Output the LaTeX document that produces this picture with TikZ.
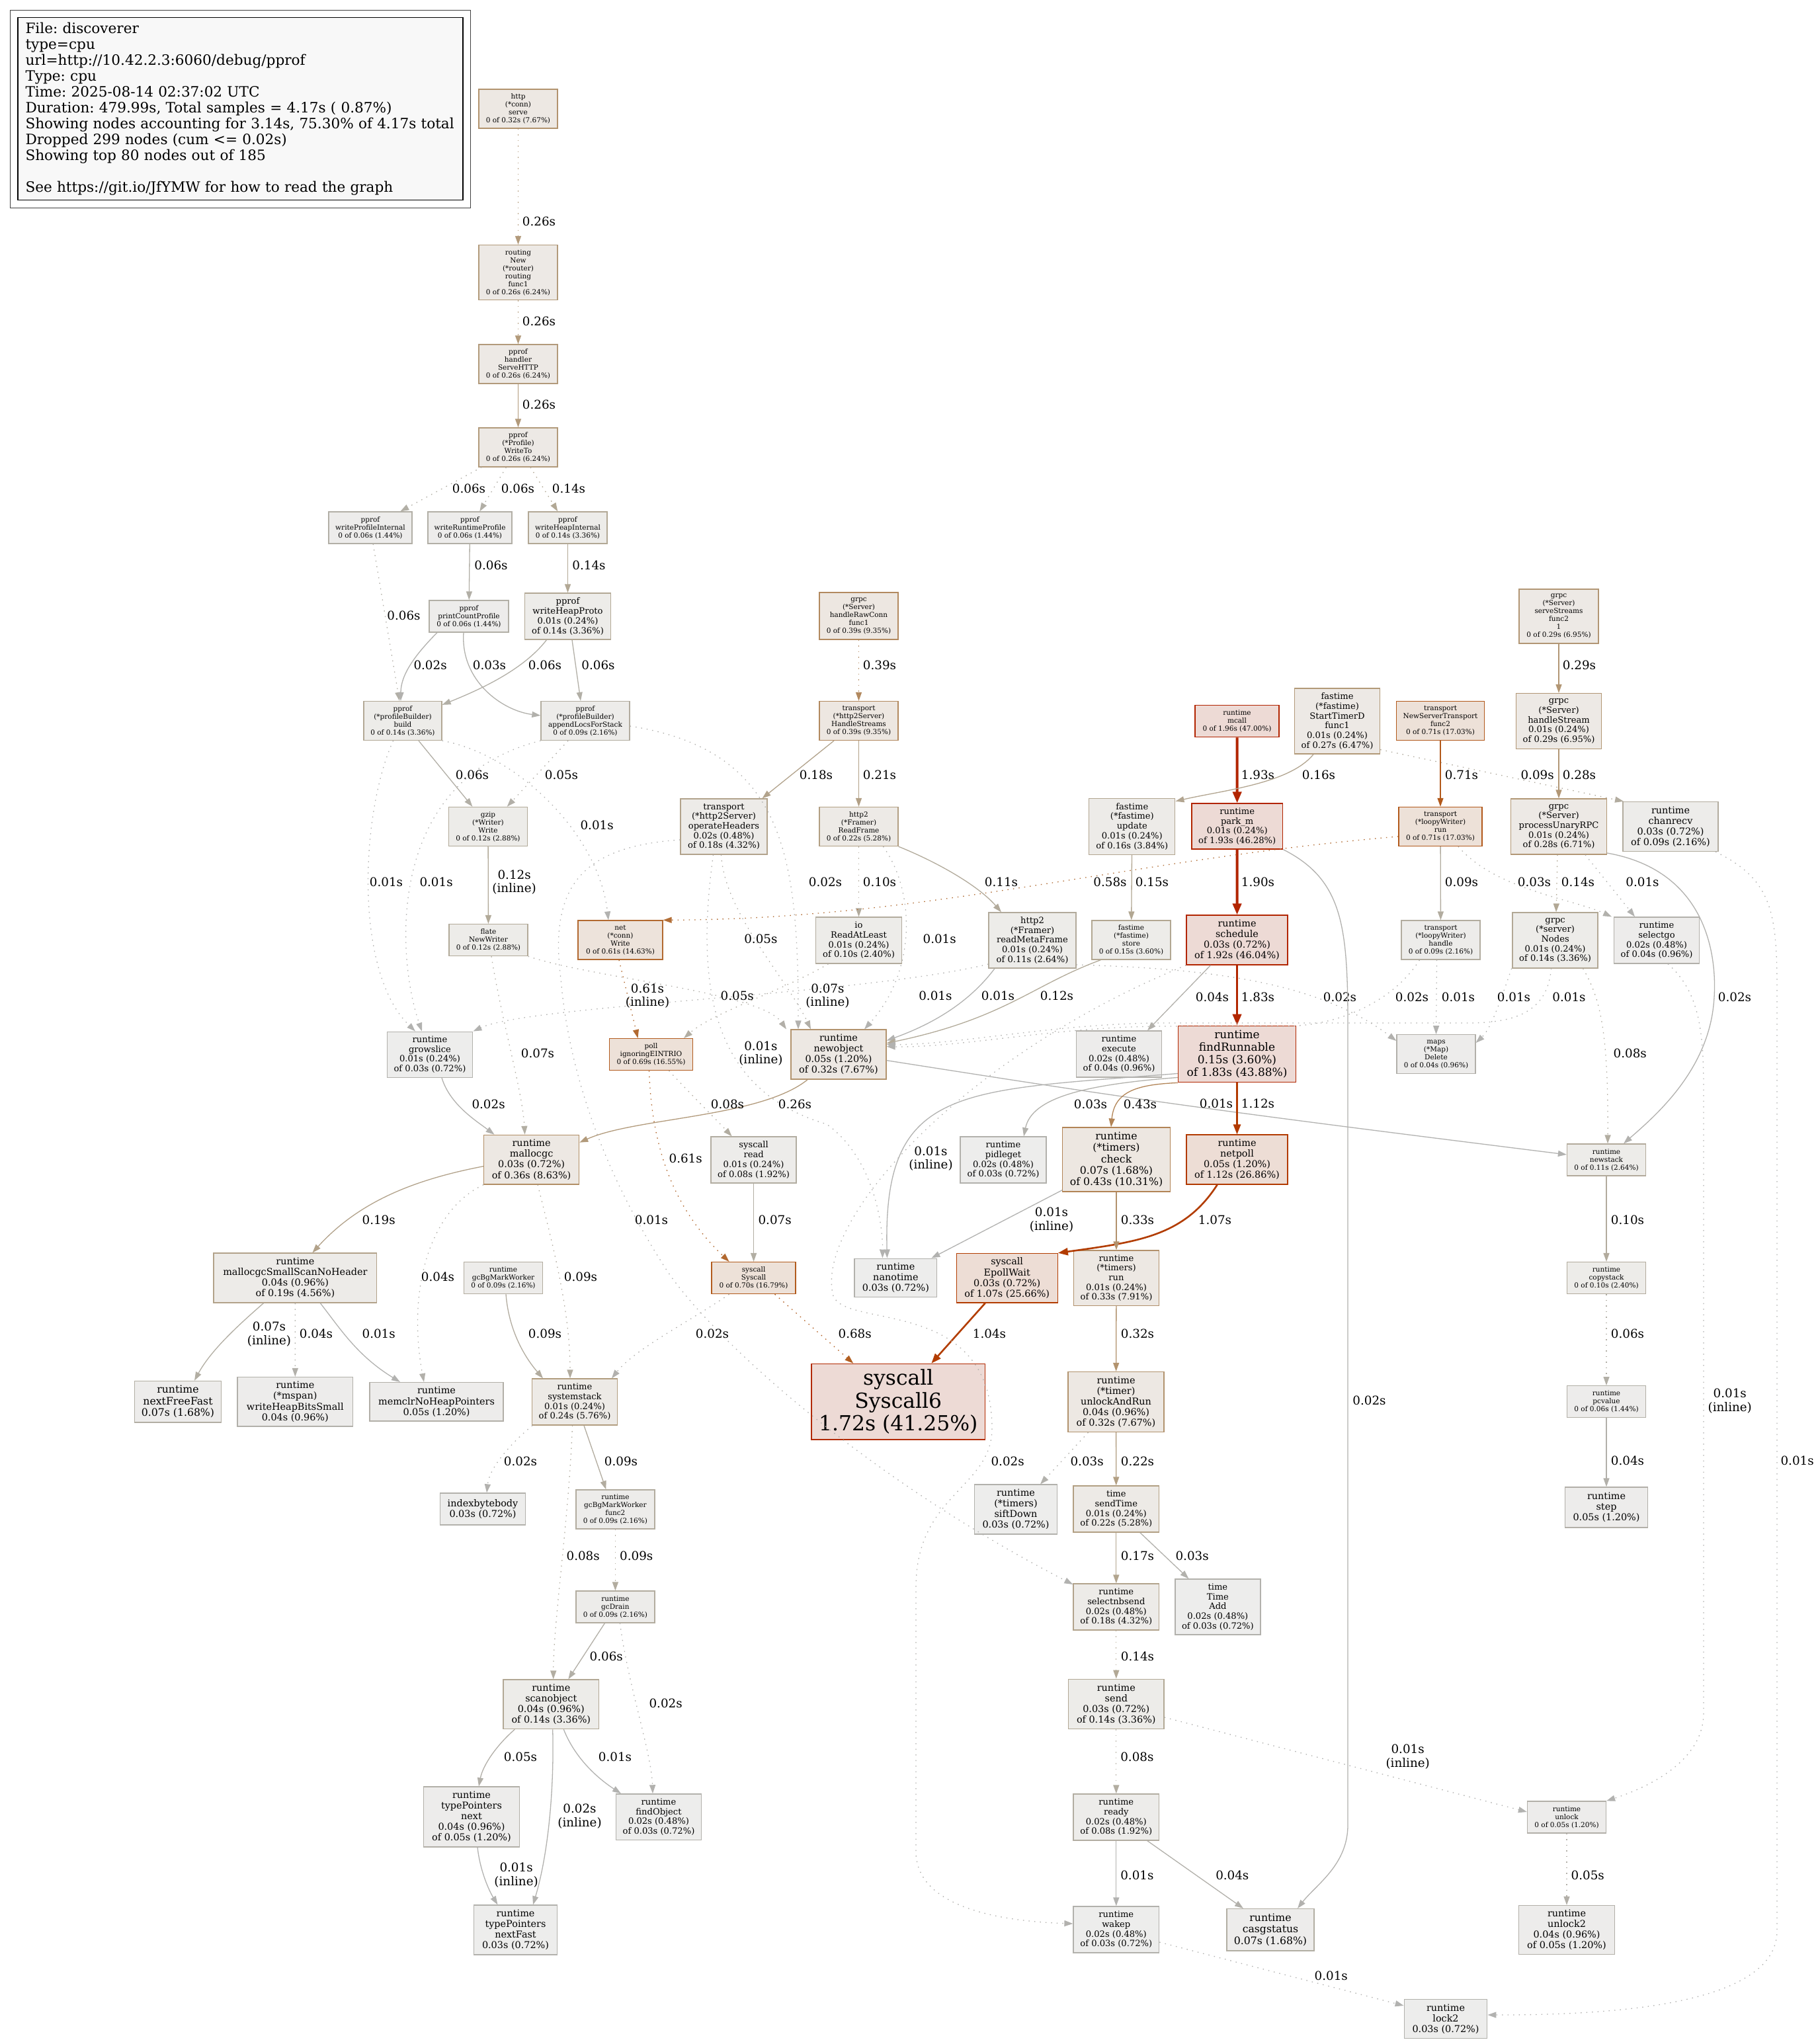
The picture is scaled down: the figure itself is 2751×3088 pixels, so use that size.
\documentclass[tikz,border=0pt]{standalone}
\usepackage{fontspec}
\setmainfont{DejaVu Serif}
\usetikzlibrary{arrows.meta,fit}
\frenchspacing

% edge and border colours (by weight)
\definecolor{w01}{HTML}{B2B2B0}
\definecolor{w02}{HTML}{B2B1AE}
\definecolor{w03}{HTML}{B2B1AC}
\definecolor{w04}{HTML}{B2B0AA}
\definecolor{w05}{HTML}{B2AFA8}
\definecolor{w06}{HTML}{B2AFA6}
\definecolor{w07}{HTML}{B2AEA3}
\definecolor{w08}{HTML}{B2ADA1}
\definecolor{w09}{HTML}{B2AC9F}
\definecolor{w10}{HTML}{B2AB9D}
\definecolor{w11}{HTML}{B2AA9B}
\definecolor{w12}{HTML}{B2AA99}
\definecolor{w14}{HTML}{B2A895}
\definecolor{w15}{HTML}{B2A792}
\definecolor{w16}{HTML}{B2A590}
\definecolor{w17}{HTML}{B2A58E}
\definecolor{w18}{HTML}{B2A38C}
\definecolor{w19}{HTML}{B2A28A}
\definecolor{w21}{HTML}{B2A086}
\definecolor{w22}{HTML}{B29F83}
\definecolor{w24}{HTML}{B29D7F}
\definecolor{w26}{HTML}{B29A7B}
\definecolor{w27}{HTML}{B29978}
\definecolor{w28}{HTML}{B29776}
\definecolor{w29}{HTML}{B29674}
\definecolor{w32}{HTML}{B2936E}
\definecolor{w33}{HTML}{B2916C}
\definecolor{w36}{HTML}{B28E65}
\definecolor{w39}{HTML}{B2895F}
\definecolor{w43}{HTML}{B28456}
\definecolor{w58}{HTML}{B26E36}
\definecolor{w61}{HTML}{B26930}
\definecolor{w68}{HTML}{B25E21}
\definecolor{w69}{HTML}{B25C1F}
\definecolor{w70}{HTML}{B25B1D}
\definecolor{w71}{HTML}{B2591B}
\definecolor{w104}{HTML}{B23D00}
\definecolor{w107}{HTML}{B23C00}
\definecolor{w112}{HTML}{B23A00}
\definecolor{w172}{HTML}{B22A00}
\definecolor{w183}{HTML}{B22700}
\definecolor{w190}{HTML}{B22500}
\definecolor{w192}{HTML}{B22500}
\definecolor{w193}{HTML}{B22500}
\definecolor{w196}{HTML}{B22400}
% node fills
\definecolor{bgA}{HTML}{EDEDEC}
\definecolor{bgB}{HTML}{EDECEB}
\definecolor{bgC}{HTML}{EDECEA}
\definecolor{bgD}{HTML}{EDECE9}
\definecolor{bgE}{HTML}{EDEBE8}
\definecolor{bgF}{HTML}{EDEAE6}
\definecolor{bgG}{HTML}{EDE9E5}
\definecolor{bgH}{HTML}{EDE8E3}
\definecolor{bgI}{HTML}{EDE7E1}
\definecolor{bgJ}{HTML}{EDE3DB}
\definecolor{bgK}{HTML}{EDE1D8}
\definecolor{bgL}{HTML}{EDDDD5}
\definecolor{bgM}{HTML}{EDDAD5}
\definecolor{legendfill}{HTML}{F8F8F8}

\begin{document}
\begin{tikzpicture}[
    x=1pt, y=-1pt,
    fn/.style={rectangle, draw, align=center, inner sep=0pt, line width=1.3pt},
    f8/.style={font=\fontsize{10.5}{12}\selectfont},
    f10/.style={font=\fontsize{13.1}{14.7}\selectfont},
    f11/.style={font=\fontsize{14.4}{16.1}\selectfont},
    f12/.style={font=\fontsize{15.7}{17.4}\selectfont},
    f13/.style={font=\fontsize{17}{18.7}\selectfont},
    f24/.style={font=\fontsize{31.4}{34.4}\selectfont},
    sz/.style 2 args={minimum width=#1pt, minimum height=#2pt},
    call/.style={draw=#1, line width=1.3pt, -{Triangle[length=13pt,width=9pt]}},
    resid/.style={call=#1, dash pattern=on 1.5pt off 7pt},
    warm/.style={draw=#1, line width=2.6pt, -{Triangle[length=15pt,width=11pt]}},
    hot/.style={draw=#1, line width=3.9pt, -{Triangle[length=17pt,width=13pt]}},
    lbl/.style={font=\fontsize{18.3}{20.5}\selectfont, align=center, inner sep=0pt}
]
\fill[white] (0,0) rectangle (2751,3088);
\useasboundingbox (0,0) rectangle (2751,3088);

    % Legend
    \node[fn, fill=legendfill, draw=black, sz={673}{276}, text width=650pt, align=left,
          font=\fontsize{21.6}{24}\selectfont] (legend) at (363.5,164.75) {File: discoverer\\
    type=cpu\\
    url=http://10.42.2.3:6060/debug/pprof\\
    Type: cpu\\
    Time: 2025-08-14 02:37:02 UTC\\
    Duration: 479.99s, Total samples = 4.17s ( 0.87\%)\\
    Showing nodes accounting for 3.14s, 75.30\% of 4.17s total\\
    Dropped 299 nodes (cum <= 0.02s)\\
    Showing top 80 nodes out of 185\\[24pt]
    See https://git.io/JfYMW for how to read the graph};
    \node[draw=black!75, line width=1pt, fit=(legend), inner sep=11pt] (legendframe) {};

    % pprof handler
    \node[fn, f8, fill=bgH, draw=w32, sz={119}{59}] (http) at (783.5,164.5) {http\\(*conn)\\serve\\0 of 0.32s (7.67\%)};
    \node[fn, f8, fill=bgG, draw=w26, sz={119}{83}] (routing) at (783.5,412) {routing\\New\\(*router)\\routing\\func1\\0 of 0.26s (6.24\%)};
    \node[fn, f8, fill=bgG, draw=w26, sz={119}{59}] (handler) at (783.5,550.5) {pprof\\handler\\ServeHTTP\\0 of 0.26s (6.24\%)};
    \node[fn, f8, fill=bgG, draw=w26, sz={119}{59}] (WriteTo) at (783.5,676.5) {pprof\\(*Profile)\\WriteTo\\0 of 0.26s (6.24\%)};
    \node[fn, f8, fill=bgB, draw=w06, sz={126}{48}] (wPI) at (560,798) {pprof\\writeProfileInternal\\0 of 0.06s (1.44\%)};
    \node[fn, f8, fill=bgB, draw=w06, sz={127}{48}] (wRP) at (710.5,798) {pprof\\writeRuntimeProfile\\0 of 0.06s (1.44\%)};
    \node[fn, f8, fill=bgD, draw=w14, sz={119}{48}] (wHI) at (858.5,798) {pprof\\writeHeapInternal\\0 of 0.14s (3.36\%)};
    \node[fn, f8, fill=bgB, draw=w06, sz={120}{48}] (printCount) at (709,932) {pprof\\printCountProfile\\0 of 0.06s (1.44\%)};
    \node[fn, f10, fill=bgD, draw=w14, sz={130}{70}] (writeHeapProto) at (858.5,932) {pprof\\writeHeapProto\\0.01s (0.24\%)\\of 0.14s (3.36\%)};
    \node[fn, f8, fill=bgD, draw=w14, sz={118}{59}] (build) at (609,1090) {pprof\\(*profileBuilder)\\build\\0 of 0.14s (3.36\%)};
    \node[fn, f8, fill=bgC, draw=w09, sz={134}{59}] (appendLocs) at (885,1090) {pprof\\(*profileBuilder)\\appendLocsForStack\\0 of 0.09s (2.16\%)};
    \node[fn, f8, fill=bgD, draw=w12, sz={119}{59}] (gzip) at (738,1250) {gzip\\(*Writer)\\Write\\0 of 0.12s (2.88\%)};
    \node[fn, f8, fill=bgD, draw=w12, sz={119}{48}] (flate) at (738.5,1421.6) {flate\\NewWriter\\0 of 0.12s (2.88\%)};

    % allocation and gc
    \node[fn, f10, fill=bgA, draw=w03, sz={129.5}{69}] (growslice) at (650,1594.7) {runtime\\growslice\\0.01s (0.24\%)\\of 0.03s (0.72\%)};
    \node[fn, f11, fill=bgH, draw=w36, sz={144}{74.6}] (mallocgc) at (803.6,1753.7) {runtime\\mallocgc\\0.03s (0.72\%)\\of 0.36s (8.63\%)};
    \node[fn, f11, fill=bgE, draw=w19, sz={246.6}{75}] (SSNH) at (446.4,1932.6) {runtime\\mallocgcSmallScanNoHeader\\0.04s (0.96\%)\\of 0.19s (4.56\%)};
    \node[fn, f12, fill=bgB, draw=w07, sz={131}{62.6}] (nextFreeFast) at (269,2119.7) {runtime\\nextFreeFast\\0.07s (1.68\%)};
    \node[fn, f11, fill=bgB, draw=w04, sz={174.7}{74.5}] (writeHeapBits) at (446.3,2119.8) {runtime\\(*mspan)\\writeHeapBitsSmall\\0.04s (0.96\%)};
    \node[fn, f11, fill=bgB, draw=w05, sz={202}{58.5}] (memclr) at (660,2119.8) {runtime\\memclrNoHeapPointers\\0.05s (1.20\%)};
    \node[fn, f8, fill=bgC, draw=w09, sz={119}{48}] (gcBgMarkWorker) at (761,1932.6) {runtime\\gcBgMarkWorker\\0 of 0.09s (2.16\%)};
    \node[fn, f10, fill=bgF, draw=w24, sz={129}{70}] (systemstack) at (869,2120) {runtime\\systemstack\\0.01s (0.24\%)\\of 0.24s (5.76\%)};
    \node[fn, f11, fill=bgA, draw=w03, sz={129}{48}] (indexbytebody) at (730,2282) {indexbytebody\\0.03s (0.72\%)};
    \node[fn, f8, fill=bgC, draw=w09, sz={119}{59}] (func2) at (930.4,2282.6) {runtime\\gcBgMarkWorker\\func2\\0 of 0.09s (2.16\%)};
    \node[fn, f8, fill=bgC, draw=w09, sz={119}{48}] (gcDrain) at (930.4,2430) {runtime\\gcDrain\\0 of 0.09s (2.16\%)};
    \node[fn, f11, fill=bgD, draw=w14, sz={144.6}{74.6}] (scanobject) at (833.3,2577.3) {runtime\\scanobject\\0.04s (0.96\%)\\of 0.14s (3.36\%)};
    \node[fn, f11, fill=bgB, draw=w05, sz={144.4}{91}] (tpNext) at (713,2747.5) {runtime\\typePointers\\next\\0.04s (0.96\%)\\of 0.05s (1.20\%)};
    \node[fn, f10, fill=bgA, draw=w03, sz={129.6}{69.8}] (findObject) at (996,2747.8) {runtime\\findObject\\0.02s (0.48\%)\\of 0.03s (0.72\%)};
    \node[fn, f11, fill=bgA, draw=w03, sz={125.5}{75}] (nextFast) at (779.5,2918.5) {runtime\\typePointers\\nextFast\\0.03s (0.72\%)};

    % grpc transport and syscalls
    \node[fn, f8, fill=bgI, draw=w39, sz={119}{71}] (handleRawConn) at (1298.5,931.5) {grpc\\(*Server)\\handleRawConn\\func1\\0 of 0.39s (9.35\%)};
    \node[fn, f8, fill=bgI, draw=w39, sz={119}{59}] (HandleStreams) at (1298.5,1090) {transport\\(*http2Server)\\HandleStreams\\0 of 0.39s (9.35\%)};
    \node[fn, f10, fill=bgE, draw=w18, sz={131}{84}] (operateHeaders) at (1094.5,1250) {transport\\(*http2Server)\\operateHeaders\\0.02s (0.48\%)\\of 0.18s (4.32\%)};
    \node[fn, f8, fill=bgF, draw=w22, sz={119}{59}] (ReadFrame) at (1298.5,1250) {http2\\(*Framer)\\ReadFrame\\0 of 0.22s (5.28\%)};
    \node[fn, f10, fill=bgD, draw=w10, sz={130}{70}] (ReadAtLeast) at (1298.5,1422) {io\\ReadAtLeast\\0.01s (0.24\%)\\of 0.10s (2.40\%)};
    \node[fn, f10, fill=bgD, draw=w11, sz={132}{84}] (readMetaFrame) at (1561,1422) {http2\\(*Framer)\\readMetaFrame\\0.01s (0.24\%)\\of 0.11s (2.64\%)};
    \node[fn, f8, fill=bgJ, draw=w61, sz={128}{59}] (net) at (938,1421.5) {net\\(*conn)\\Write\\0 of 0.61s (14.63\%)};
    \node[fn, f8, fill=bgK, draw=w69, sz={126}{48}] (poll) at (984.5,1594.6) {poll\\ignoringEINTRIO\\0 of 0.69s (16.55\%)};
    \node[fn, f11, fill=bgH, draw=w32, sz={144}{75}] (newobject) at (1268,1594.6) {runtime\\newobject\\0.05s (1.20\%)\\of 0.32s (7.67\%)};
    \node[fn, f10, fill=bgC, draw=w08, sz={129}{70}] (read) at (1139.6,1754) {syscall\\read\\0.01s (0.24\%)\\of 0.08s (1.92\%)};
    \node[fn, f8, fill=bgK, draw=w70, sz={127}{48}] (Syscall) at (1139.6,1932.6) {syscall\\Syscall\\0 of 0.70s (16.79\%)};
    \node[fn, f24, fill=bgM, draw=w172, sz={262.6}{114.6}] (Syscall6) at (1358.3,2119.7) {syscall\\Syscall6\\1.72s (41.25\%)};

    % scheduler
    \node[fn, f8, fill=bgM, draw=w196, sz={127}{48}] (mcall) at (1870.5,1090.6) {runtime\\mcall\\0 of 1.96s (47.00\%)};
    \node[fn, f10, fill=bgM, draw=w193, sz={137.7}{69}] (parkm) at (1870.7,1249.6) {runtime\\park\_m\\0.01s (0.24\%)\\of 1.93s (46.28\%)};
    \node[fn, f11, fill=bgM, draw=w192, sz={153}{75}] (schedule) at (1870.5,1421.5) {runtime\\schedule\\0.03s (0.72\%)\\of 1.92s (46.04\%)};
    \node[fn, f13, fill=bgM, draw=w183, sz={178}{85.5}] (findRunnable) at (1870.5,1594) {runtime\\findRunnable\\0.15s (3.60\%)\\of 1.83s (43.88\%)};
    \node[fn, f11, fill=bgL, draw=w112, sz={153}{75}] (netpoll) at (1870.5,1753.6) {runtime\\netpoll\\0.05s (1.20\%)\\of 1.12s (26.86\%)};
    \node[fn, f11, fill=bgL, draw=w107, sz={153}{74.5}] (EpollWait) at (1522.7,1932.7) {syscall\\EpollWait\\0.03s (0.72\%)\\of 1.07s (25.66\%)};
    \node[fn, f10, fill=bgB, draw=w04, sz={129}{70}] (execute) at (1692,1594) {runtime\\execute\\0.02s (0.48\%)\\of 0.04s (0.96\%)};
    \node[fn, f10, fill=bgA, draw=w03, sz={130}{70}] (pidleget) at (1517,1754) {runtime\\pidleget\\0.02s (0.48\%)\\of 0.03s (0.72\%)};
    \node[fn, f11, fill=bgA, draw=w03, sz={124.6}{58.5}] (nanotime) at (1354.4,1932.4) {runtime\\nanotime\\0.03s (0.72\%)};
    \node[fn, f12, fill=bgI, draw=w43, sz={162.5}{97}] (check) at (1688,1753.6) {runtime\\(*timers)\\check\\0.07s (1.68\%)\\of 0.43s (10.31\%)};
    \node[fn, f10, fill=bgH, draw=w33, sz={129}{83.5}] (run) at (1688,1932.7) {runtime\\(*timers)\\run\\0.01s (0.24\%)\\of 0.33s (7.91\%)};
    \node[fn, f11, fill=bgH, draw=w32, sz={145}{91}] (unlockAndRun) at (1687.5,2120) {runtime\\(*timer)\\unlockAndRun\\0.04s (0.96\%)\\of 0.32s (7.67\%)};
    \node[fn, f11, fill=bgA, draw=w03, sz={125}{75}] (siftDown) at (1536,2282.6) {runtime\\(*timers)\\siftDown\\0.03s (0.72\%)};
    \node[fn, f10, fill=bgF, draw=w22, sz={129.6}{70}] (sendTime) at (1687.8,2282) {time\\sendTime\\0.01s (0.24\%)\\of 0.22s (5.28\%)};
    \node[fn, f10, fill=bgA, draw=w03, sz={129}{84}] (TimeAdd) at (1841.4,2430) {time\\Time\\Add\\0.02s (0.48\%)\\of 0.03s (0.72\%)};
    \node[fn, f10, fill=bgE, draw=w18, sz={129.6}{70}] (selectnbsend) at (1687.8,2430) {runtime\\selectnbsend\\0.02s (0.48\%)\\of 0.18s (4.32\%)};
    \node[fn, f11, fill=bgD, draw=w14, sz={144.6}{75.6}] (send) at (1687.8,2577) {runtime\\send\\0.03s (0.72\%)\\of 0.14s (3.36\%)};
    \node[fn, f10, fill=bgC, draw=w08, sz={129.6}{70}] (ready) at (1687.8,2748) {runtime\\ready\\0.02s (0.48\%)\\of 0.08s (1.92\%)};
    \node[fn, f10, fill=bgA, draw=w03, sz={129.6}{70}] (wakep) at (1687.8,2918) {runtime\\wakep\\0.02s (0.48\%)\\of 0.03s (0.72\%)};
    \node[fn, f12, fill=bgB, draw=w07, sz={132}{63.4}] (casgstatus) at (1921,2918.3) {runtime\\casgstatus\\0.07s (1.68\%)};
    \node[fn, f11, fill=bgA, draw=w03, sz={125.5}{58.4}] (lock2) at (2186,3053) {runtime\\lock2\\0.03s (0.72\%)};

    % fastime and grpc server
    \node[fn, f10, fill=bgG, draw=w27, sz={129}{99}] (StartTimerD) at (2022,1090.6) {fastime\\(*fastime)\\StartTimerD\\func1\\0.01s (0.24\%)\\of 0.27s (6.47\%)};
    \node[fn, f10, fill=bgE, draw=w16, sz={130}{85}] (update) at (1711.8,1249.7) {fastime\\(*fastime)\\update\\0.01s (0.24\%)\\of 0.16s (3.84\%)};
    \node[fn, f8, fill=bgD, draw=w15, sz={119}{59}] (store) at (1710.5,1421.5) {fastime\\(*fastime)\\store\\0 of 0.15s (3.60\%)};
    \node[fn, f8, fill=bgK, draw=w71, sz={133}{59}] (NewServerTransport) at (2178,1090) {transport\\NewServerTransport\\func2\\0 of 0.71s (17.03\%)};
    \node[fn, f8, fill=bgK, draw=w71, sz={126}{59}] (loopyrun) at (2178,1250) {transport\\(*loopyWriter)\\run\\0 of 0.71s (17.03\%)};
    \node[fn, f8, fill=bgC, draw=w09, sz={119}{59}] (loopyhandle) at (2178.5,1421.5) {transport\\(*loopyWriter)\\handle\\0 of 0.09s (2.16\%)};
    \node[fn, f8, fill=bgG, draw=w29, sz={120}{82}] (serveStreams) at (2357,932) {grpc\\(*Server)\\serveStreams\\func2\\1\\0 of 0.29s (6.95\%)};
    \node[fn, f10, fill=bgG, draw=w29, sz={129}{84}] (handleStream) at (2357,1090.6) {grpc\\(*Server)\\handleStream\\0.01s (0.24\%)\\of 0.29s (6.95\%)};
    \node[fn, f10, fill=bgG, draw=w28, sz={145}{84}] (processUnaryRPC) at (2357,1250) {grpc\\(*Server)\\processUnaryRPC\\0.01s (0.24\%)\\of 0.28s (6.71\%)};
    \node[fn, f11, fill=bgC, draw=w09, sz={144}{75}] (chanrecv) at (2526,1250) {runtime\\chanrecv\\0.03s (0.72\%)\\of 0.09s (2.16\%)};
    \node[fn, f10, fill=bgD, draw=w14, sz={129}{84}] (Nodes) at (2351.6,1422) {grpc\\(*server)\\Nodes\\0.01s (0.24\%)\\of 0.14s (3.36\%)};
    \node[fn, f10, fill=bgB, draw=w04, sz={129}{70}] (selectgo) at (2505,1422) {runtime\\selectgo\\0.02s (0.48\%)\\of 0.04s (0.96\%)};
    \node[fn, f8, fill=bgB, draw=w04, sz={119}{58.5}] (mapsDelete) at (2171.5,1594) {maps\\(*Map)\\Delete\\0 of 0.04s (0.96\%)};
    \node[fn, f8, fill=bgD, draw=w11, sz={119}{48}] (newstack) at (2429,1754) {runtime\\newstack\\0 of 0.11s (2.64\%)};
    \node[fn, f8, fill=bgD, draw=w10, sz={119}{48}] (copystack) at (2429,1932.6) {runtime\\copystack\\0 of 0.10s (2.40\%)};
    \node[fn, f8, fill=bgB, draw=w06, sz={119}{48}] (pcvalue) at (2429,2119.7) {runtime\\pcvalue\\0 of 0.06s (1.44\%)};
    \node[fn, f11, fill=bgB, draw=w05, sz={125}{61}] (step) at (2429,2279.5) {runtime\\step\\0.05s (1.20\%)};
    \node[fn, f8, fill=bgB, draw=w05, sz={119}{48}] (unlock) at (2369,2748) {runtime\\unlock\\0 of 0.05s (1.20\%)};
    \node[fn, f11, fill=bgB, draw=w05, sz={144.4}{74}] (unlock2) at (2369,2918.5) {runtime\\unlock2\\0.04s (0.96\%)\\of 0.05s (1.20\%)};

    % pprof handler edges
    \draw[resid=w26] (http) -- (routing) node[lbl] at (815,335) {0.26s};
    \draw[resid=w26] (routing) -- (handler) node[lbl] at (815,486) {0.26s};
    \draw[call=w26] (handler) -- (WriteTo) node[lbl] at (815,612) {0.26s};
    \draw[resid=w06] (WriteTo) -- (wPI) node[lbl] at (709,739) {0.06s};
    \draw[resid=w06] (WriteTo) -- (wRP) node[lbl] at (783,739) {0.06s};
    \draw[resid=w14] (WriteTo) -- (wHI) node[lbl] at (860,739) {0.14s};
    \draw[call=w06] (wRP) -- (printCount) node[lbl] at (742.5,855) {0.06s};
    \draw[call=w14] (wHI) -- (writeHeapProto) node[lbl] at (890.5,855) {0.14s};
    \draw[resid=w06] (wPI) -- (build) node[lbl] at (610.5,931) {0.06s};
    \draw[call=w02] ([xshift=-48pt]printCount.south) .. controls (628,990) and (606,1020) .. ([xshift=-3pt]build.north) node[lbl] at (650.6,1006) {0.02s};
    \draw[call=w03] ([xshift=-8pt]printCount.south) .. controls (696,1030) and (760,1075) .. ([yshift=8pt]appendLocs.west) node[lbl] at (740,1006) {0.03s};
    \draw[call=w06] ([xshift=-32pt]writeHeapProto.south) .. controls (790,1015) and (720,1045) .. ([yshift=-6pt]build.north east) node[lbl] at (824,1006) {0.06s};
    \draw[call=w06] ([xshift=6.5pt]writeHeapProto.south) -- ([xshift=-7pt]appendLocs.north) node[lbl] at (904.5,1006) {0.06s};
    \draw[call=w06] ([xshift=24pt]build.south) -- ([xshift=-23.6pt]gzip.north) node[lbl] at (714,1172) {0.06s};
    \draw[resid=w05] ([xshift=-26pt]appendLocs.south) -- ([xshift=28.7pt]gzip.north) node[lbl] at (849,1172) {0.05s};
    \draw[resid=w01] (build.south east) .. controls (780,1140) and (905,1260) .. ([xshift=-18pt]net.north) node[lbl] at (902.6,1248) {0.01s};
    \draw[resid=w01] ([xshift=-14.5pt]build.south) .. controls (545,1230) and (535,1470) .. ([xshift=-22pt]growslice.north) node[lbl] at (584,1334) {0.01s};
    \draw[resid=w01] (appendLocs.south west) .. controls (580,1180) and (600,1450) .. ([xshift=-12pt]growslice.north) node[lbl] at (659.6,1334) {0.01s};
    \draw[resid=w02] ([yshift=-8pt]appendLocs.east) .. controls (1190,1135) and (1207,1300) .. ([xshift=-61pt]newobject.north) node[lbl] at (1248,1334) {0.02s};
    \draw[call=w12] (gzip) -- (flate) node[lbl] at (777.6,1334) {0.12s\\(inline)};
    \draw[resid=w07] ([xshift=4.5pt]flate.south) .. controls (760,1550) and (790,1650) .. ([xshift=-10pt]mallocgc.north) node[lbl] at (813,1593) {0.07s};
    \draw[resid=w05] (flate.south east) .. controls (900,1480) and (1150,1500) .. ([xshift=-79pt]newobject.north) node[lbl] at (1114.8,1506) {0.05s};

    % allocation edges
    \draw[call=w02] ([xshift=18pt]growslice.south) .. controls (680,1670) and (720,1695) .. ([xshift=-56pt]mallocgc.north) node[lbl] at (738.6,1669.6) {0.02s};
    \draw[call=w26] ([xshift=-47pt]newobject.south) .. controls (1150,1690) and (960,1690) .. ([yshift=26pt]mallocgc.east) node[lbl] at (1202,1669.6) {0.26s};
    \draw[call=w19] ([yshift=-10pt]mallocgc.west) .. controls (620,1785) and (540,1820) .. ([xshift=26pt]SSNH.north) node[lbl] at (572.7,1844.6) {0.19s};
    \draw[resid=w04] (mallocgc.south west) .. controls (650,1830) and (615,1950) .. ([xshift=-19pt]memclr.north) node[lbl] at (662,1931) {0.04s};
    \draw[resid=w09] ([xshift=9.5pt]mallocgc.south) .. controls (835,1880) and (862,1980) .. ([xshift=-7pt]systemstack.north) node[lbl] at (878,1931) {0.09s};
    \draw[call=w07] ([xshift=-48pt]SSNH.south) .. controls (365,2000) and (320,2040) .. ([xshift=25pt]nextFreeFast.north) node[lbl] at (407,2017.4) {0.07s\\(inline)};
    \draw[resid=w04] (SSNH) -- (writeHeapBits) node[lbl] at (478,2017) {0.04s};
    \draw[call=w01] ([xshift=38pt]SSNH.south) .. controls (515,2010) and (540,2050) .. ([xshift=-55pt]memclr.north) node[lbl] at (572.7,2017) {0.01s};
    \draw[call=w09] ([xshift=4pt]gcBgMarkWorker.south) .. controls (770,2020) and (800,2060) .. ([xshift=-48pt]systemstack.north) node[lbl] at (824,2017) {0.09s};
    \draw[resid=w02] ([xshift=-64pt]systemstack.south) .. controls (770,2185) and (740,2220) .. ([xshift=6pt]indexbytebody.north) node[lbl] at (787,2209.8) {0.02s};
    \draw[call=w09] ([xshift=14pt]systemstack.south) -- ([xshift=-14pt]func2.north) node[lbl] at (939,2209.8) {0.09s};
    \draw[resid=w08] ([xshift=-3.5pt]systemstack.south) .. controls (860,2300) and (837,2450) .. ([xshift=3.4pt]scanobject.north) node[lbl] at (881.7,2352.7) {0.08s};
    \draw[resid=w09] (func2) -- (gcDrain) node[lbl] at (962.3,2352.7) {0.09s};
    \draw[call=w06] ([xshift=-16pt]gcDrain.south) -- ([xshift=26pt]scanobject.north) node[lbl] at (916.8,2504.4) {0.06s};
    \draw[resid=w02] ([xshift=7pt]gcDrain.south) .. controls (950,2550) and (985,2650) .. ([xshift=-9pt]findObject.north) node[lbl] at (1006.6,2575.5) {0.02s};
    \draw[call=w05] ([xshift=-55pt]scanobject.south) .. controls (750,2640) and (730,2670) .. ([xshift=11pt]tpNext.north) node[lbl] at (787,2656.7) {0.05s};
    \draw[call=w01] ([xshift=19pt]scanobject.south) .. controls (870,2660) and (905,2690) .. ([xshift=-57pt]findObject.north) node[lbl] at (930,2656.7) {0.01s};
    \draw[call=w02] ([xshift=2.4pt]scanobject.south) .. controls (838,2700) and (830,2800) .. ([xshift=26.5pt]nextFast.north) node[lbl] at (876.5,2746.7) {0.02s\\(inline)};
    \draw[call=w01] ([xshift=9pt]tpNext.south) .. controls (726,2830) and (740,2860) .. ([xshift=-27pt]nextFast.north) node[lbl] at (780.6,2835.7) {0.01s\\(inline)};

    % transport edges
    \draw[resid=w39] (handleRawConn) -- (HandleStreams) node[lbl] at (1330,1006) {0.39s};
    \draw[call=w18] ([xshift=-37.5pt]HandleStreams.south) -- ([xshift=58pt]operateHeaders.north) node[lbl] at (1234,1172) {0.18s};
    \draw[call=w21] (HandleStreams) -- (ReadFrame) node[lbl] at (1330,1172) {0.21s};
    \draw[resid=w10] (ReadFrame) -- (ReadAtLeast) node[lbl] at (1330,1334) {0.10s};
    \draw[call=w11] (ReadFrame.south east) .. controls (1420,1305) and (1480,1340) .. ([xshift=-47pt]readMetaFrame.north) node[lbl] at (1514,1334) {0.11s};
    \draw[resid=w01] ([xshift=37pt]ReadFrame.south) .. controls (1385,1350) and (1385,1470) .. ([xshift=39pt]newobject.north) node[lbl] at (1420.7,1420) {0.01s};
    \draw[resid=w05] ([xshift=-4pt]operateHeaders.south) .. controls (1095,1380) and (1190,1480) .. ([xshift=-42pt]newobject.north) node[lbl] at (1150.4,1420) {0.05s};
    \draw[resid=w01] ([xshift=-16pt]operateHeaders.south) .. controls (1050,1500) and (1080,1650) .. (1250,1700) .. controls (1320,1750) and (1335,1850) .. ([xshift=-20pt]nanotime.north) node[lbl] at (1150.4,1593) {0.01s\\(inline)};
    \draw[resid=w01] ([yshift=-20pt]operateHeaders.west) .. controls (880,1280) and (830,1340) .. (848,1480) .. controls (858,1600) and (900,1750) .. (1000,1908) .. controls (1060,2010) and (1300,2230) .. ([yshift=34pt]selectnbsend.west) node[lbl] at (985,1845) {0.01s};
    \draw[resid=w07] ([xshift=-46pt]ReadAtLeast.south) .. controls (1180,1500) and (1080,1530) .. ([xshift=49.5pt]poll.north) node[lbl] at (1251.4,1506) {0.07s\\(inline)};
    \draw[call=w01] ([xshift=-57pt]readMetaFrame.south) .. controls (1470,1510) and (1420,1545) .. ([yshift=21pt]newobject.east) node[lbl] at (1509,1506) {0.01s};
    \draw[resid=w01] ([yshift=-36pt]readMetaFrame.west) .. controls (1300,1505) and (800,1520) .. (growslice.north east) node[lbl] at (1414.4,1506) {0.01s};
    \draw[resid=w02] ([yshift=-37pt]readMetaFrame.east) .. controls (1850,1465) and (2000,1490) .. ([yshift=20pt]mapsDelete.west) node[lbl] at (2026,1507.6) {0.02s};
    \draw[call=w12] ([xshift=-46pt]store.south) .. controls (1560,1490) and (1520,1540) .. ([yshift=17pt]newobject.east) node[lbl] at (1598,1506) {0.12s};
    \draw[call=w01] ([yshift=-9pt]newobject.east) .. controls (1700,1660) and (1800,1675) .. ([yshift=8pt]newstack.west) node[lbl] at (1839,1669) {0.01s};

    % syscall edges
    \draw[resid=w61] ([xshift=-2pt]net.south) -- ([xshift=-20pt]poll.north) node[lbl] at (979,1506) {0.61s\\(inline)};
    \draw[resid=w61] ([xshift=-3pt]poll.south) .. controls (985,1720) and (1010,1820) .. ([xshift=-37pt]Syscall.north) node[lbl] at (1036.7,1752) {0.61s};
    \draw[resid=w08] ([xshift=27pt]poll.south) .. controls (1040,1650) and (1080,1690) .. ([xshift=-33pt]read.north) node[lbl] at (1100,1669.6) {0.08s};
    \draw[call=w07] (read) -- (Syscall) node[lbl] at (1171.6,1844.6) {0.07s};
    \draw[resid=w68] ([xshift=32pt]Syscall.south) -- ([xshift=-68pt]Syscall6.north) node[lbl] at (1292.7,2017) {0.68s};
    \draw[resid=w02] ([xshift=-37pt]Syscall.south) .. controls (1040,2000) and (960,2040) .. ([xshift=56pt]systemstack.north) node[lbl] at (1077,2017) {0.02s};
    \draw[warm=w104] ([xshift=-33pt]EpollWait.south) -- ([xshift=50pt]Syscall6.north) node[lbl] at (1496,2017) {1.04s};

    % scheduler edges
    \draw[hot=w193] (mcall) -- (parkm) node[lbl] at (1902,1172) {1.93s};
    \draw[hot=w190] (parkm) -- (schedule) node[lbl] at (1902,1334) {1.90s};
    \draw[hot=w183] (schedule) -- (findRunnable) node[lbl] at (1902,1507.6) {1.83s};
    \draw[warm=w112] (findRunnable) -- (netpoll) node[lbl] at (1902,1669) {1.12s};
    \draw[warm=w107] ([xshift=-30pt]netpoll.south) .. controls (1790,1870) and (1720,1878) .. (EpollWait.north east) node[lbl] at (1837,1845) {1.07s};
    \draw[call=w02] ([yshift=-35pt]parkm.east) .. controls (2030,1330) and (2038,1400) .. (2038,1550) -- (2038,2760) .. controls (2038,2820) and (1990,2850) .. ([xshift=41pt]casgstatus.north) node[lbl] at (2070.5,2118) {0.02s};
    \draw[call=w04] ([xshift=-40pt]schedule.south) -- ([xshift=43pt]execute.north) node[lbl] at (1833,1507.6) {0.04s};
    \draw[resid=w02] (schedule.south west) .. controls (1450,1600) and (1230,1850) .. (1260,1960) .. controls (1280,2010) and (1500,1960) .. (1500,2160) .. controls (1500,2250) and (1385,2260) .. (1385,2400) -- (1385,2800) .. controls (1385,2880) and (1500,2905) .. ([yshift=9pt]wakep.west) node[lbl] at (1523.6,2209.4) {0.02s};
    \draw[call=w43] (findRunnable.south west) .. controls (1720,1640) and (1685,1650) .. ([xshift=-8pt]check.north) node[lbl] at (1724,1669.6) {0.43s};
    \draw[call=w03] ([yshift=8pt]findRunnable.south west) .. controls (1640,1640) and (1560,1660) .. ([xshift=31pt]pidleget.north) node[lbl] at (1649,1669.6) {0.03s};
    \draw[call=w01] ([yshift=14pt]findRunnable.south west) .. controls (1450,1650) and (1335,1640) .. ([xshift=-13pt]nanotime.north) node[lbl] at (1407.5,1752) {0.01s\\(inline)};
    \draw[call=w33] (check) -- (run) node[lbl] at (1720,1844.6) {0.33s};
    \draw[call=w01] ([yshift=3pt]check.south west) -- ([xshift=54pt]nanotime.north) node[lbl] at (1590,1844.6) {0.01s\\(inline)};
    \draw[call=w32] (run) -- (unlockAndRun) node[lbl] at (1720,2017) {0.32s};
    \draw[call=w22] (unlockAndRun) -- (sendTime) node[lbl] at (1720,2209.4) {0.22s};
    \draw[resid=w03] ([xshift=-42pt]unlockAndRun.south) -- ([xshift=37pt]siftDown.north) node[lbl] at (1643.6,2209.4) {0.03s};
    \draw[call=w17] (sendTime) -- (selectnbsend) node[lbl] at (1720,2352.7) {0.17s};
    \draw[call=w03] ([xshift=36pt]sendTime.south) -- ([xshift=-44pt]TimeAdd.north) node[lbl] at (1802.6,2352.7) {0.03s};
    \draw[resid=w14] (selectnbsend) -- (send) node[lbl] at (1720,2504.4) {0.14s};
    \draw[resid=w08] (send) -- (ready) node[lbl] at (1719.4,2656.7) {0.08s};
    \draw[resid=w01] ([yshift=-20pt]send.east) -- ([yshift=8pt]unlock.west) node[lbl] at (2128.6,2656.7) {0.01s\\(inline)};
    \draw[call=w01] (ready) -- (wakep) node[lbl] at (1719.4,2835.6) {0.01s};
    \draw[call=w04] ([xshift=47pt]ready.south) -- ([xshift=-41pt]casgstatus.north) node[lbl] at (1863.3,2835.6) {0.04s};
    \draw[resid=w01] ([yshift=-19pt]wakep.east) -- ([yshift=20pt]lock2.west) node[lbl] at (2012.7,2988) {0.01s};

    % fastime and grpc server edges
    \draw[call=w15] (update) -- (store) node[lbl] at (1742,1334) {0.15s};
    \draw[call=w16] ([xshift=-36pt]StartTimerD.south) .. controls (1950,1185) and (1850,1195) .. ([yshift=38pt]update.east) node[lbl] at (1994,1172) {0.16s};
    \draw[resid=w09] ([yshift=-43pt]StartTimerD.east) -- ([xshift=-71pt]chanrecv.north) node[lbl] at (2324.6,1172) {0.09s};
    \draw[call=w71] (NewServerTransport) -- (loopyrun) node[lbl] at (2210,1172) {0.71s};
    \draw[resid=w58] ([yshift=-15pt]loopyrun.west) .. controls (1700,1300) and (1400,1390) .. (net.north east) node[lbl] at (1678.5,1334) {0.58s};
    \draw[call=w09] (loopyrun) -- (loopyhandle) node[lbl] at (2210,1334) {0.09s};
    \draw[resid=w03] ([xshift=27pt]loopyrun.south) .. controls (2260,1345) and (2380,1360) .. ([xshift=-68pt]selectgo.north) node[lbl] at (2320,1334) {0.03s};
    \draw[resid=w01] ([xshift=-6pt]loopyhandle.south) -- (mapsDelete.north) node[lbl] at (2205,1507.6) {0.01s};
    \draw[resid=w02] ([xshift=-32pt]loopyhandle.south) .. controls (2110,1510) and (2030,1552) .. (1940,1552) -- (1760,1552) .. controls (1600,1552) and (1450,1585) .. ([yshift=12pt]newobject.east) node[lbl] at (2135,1507.6) {0.02s};
    \draw[call=w29] (serveStreams) -- (handleStream) node[lbl] at (2388,1006) {0.29s};
    \draw[call=w28] (handleStream) -- (processUnaryRPC) node[lbl] at (2388,1172) {0.28s};
    \draw[resid=w14] ([xshift=-2pt]processUnaryRPC.south) -- ([xshift=1.4pt]Nodes.north) node[lbl] at (2386,1334) {0.14s};
    \draw[resid=w01] ([xshift=40pt]processUnaryRPC.south) -- ([xshift=-33pt]selectgo.north) node[lbl] at (2483.5,1334) {0.01s};
    \draw[call=w02] ([yshift=-40pt]processUnaryRPC.east) .. controls (2600,1320) and (2600,1480) .. (2588,1540) .. controls (2570,1630) and (2500,1690) .. ([xshift=26pt]newstack.north) node[lbl] at (2623,1507.6) {0.02s};
    \draw[resid=w01] ([xshift=-66pt]Nodes.south) .. controls (2270,1510) and (2255,1555) .. ([yshift=17pt]mapsDelete.east) node[lbl] at (2289,1507.6) {0.01s};
    \draw[resid=w01] ([xshift=-6pt]Nodes.south) .. controls (2340,1525) and (2300,1547) .. (2220,1547) -- (1760,1547) .. controls (1600,1547) and (1450,1580) .. ([yshift=15pt]newobject.east) node[lbl] at (2372.5,1507.6) {0.01s};
    \draw[resid=w08] ([xshift=42pt]Nodes.south) .. controls (2420,1510) and (2432,1560) .. ([xshift=2pt]newstack.north) node[lbl] at (2464.7,1593) {0.08s};
    \draw[resid=w01] ([xshift=17pt]selectgo.south) .. controls (2570,1500) and (2576,1560) .. (2576,1650) -- (2576,2590) .. controls (2576,2660) and (2500,2700) .. (unlock.north east) node[lbl] at (2615.7,2118.5) {0.01s\\(inline)};
    \draw[resid=w01] ([xshift=68pt]chanrecv.south) .. controls (2680,1330) and (2687,1380) .. (2687,1500) -- (2687,2920) .. controls (2687,3040) and (2400,3047) .. ([yshift=6pt]lock2.east) node[lbl] at (2717.6,2209) {0.01s};
    \draw[call=w10] (newstack) -- (copystack) node[lbl] at (2461,1845) {0.10s};
    \draw[resid=w06] (copystack) -- (pcvalue) node[lbl] at (2461,2017) {0.06s};
    \draw[call=w04] (pcvalue) -- (step) node[lbl] at (2461,2209) {0.04s};
    \draw[resid=w05] (unlock) -- (unlock2) node[lbl] at (2400.7,2835.8) {0.05s};

\end{tikzpicture}
\end{document}
